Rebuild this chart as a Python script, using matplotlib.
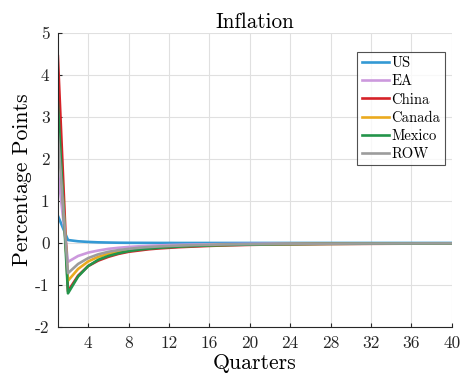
import matplotlib
matplotlib.use("Agg")
import matplotlib.pyplot as plt
import numpy as np

plt.rcParams['font.family'] = 'cmr10'
plt.rcParams['mathtext.fontset'] = 'cm'
plt.rcParams['axes.unicode_minus'] = False

quarters = np.arange(1, 41)

# impulse responses of inflation, percentage points
us = [0.65, 0.07, 0.04, 0.025, 0.015, 0.01, 0.006, 0.004, 0.003, 0.002,
      0.001, 0.001, 0.0, 0.0, 0.0, 0.0, 0.0, 0.0, 0.0, 0.0,
      0.0, 0.0, 0.0, 0.0, 0.0, 0.0, 0.0, 0.0, 0.0, 0.0,
      0.0, 0.0, 0.0, 0.0, 0.0, 0.0, 0.0, 0.0, 0.0, 0.0]
ea = [1.7, -0.45, -0.31, -0.23, -0.18, -0.14, -0.115, -0.095, -0.08, -0.068,
      -0.058, -0.05, -0.044, -0.039, -0.035, -0.031, -0.028, -0.025, -0.023, -0.021,
      -0.019, -0.018, -0.017, -0.016, -0.015, -0.014, -0.013, -0.012, -0.012, -0.011,
      -0.011, -0.010, -0.010, -0.009, -0.009, -0.009, -0.008, -0.008, -0.008, -0.008]
china = [4.45, -1.15, -0.78, -0.55, -0.42, -0.33, -0.26, -0.21, -0.18, -0.15,
         -0.13, -0.115, -0.10, -0.09, -0.08, -0.07, -0.062, -0.055, -0.05, -0.045,
         -0.041, -0.038, -0.035, -0.032, -0.03, -0.028, -0.026, -0.024, -0.023, -0.022,
         -0.021, -0.02, -0.019, -0.018, -0.017, -0.017, -0.016, -0.016, -0.015, -0.015]
canada = [3.0, -0.9, -0.62, -0.44, -0.33, -0.26, -0.21, -0.17, -0.14, -0.12,
          -0.10, -0.088, -0.077, -0.068, -0.06, -0.054, -0.048, -0.043, -0.039, -0.035,
          -0.032, -0.03, -0.028, -0.026, -0.024, -0.022, -0.021, -0.02, -0.019, -0.018,
          -0.017, -0.016, -0.015, -0.015, -0.014, -0.014, -0.013, -0.013, -0.012, -0.012]
mexico = [3.35, -1.2, -0.8, -0.55, -0.4, -0.31, -0.245, -0.195, -0.16, -0.135,
          -0.115, -0.1, -0.087, -0.076, -0.067, -0.06, -0.053, -0.048, -0.043, -0.039,
          -0.036, -0.033, -0.03, -0.028, -0.026, -0.024, -0.022, -0.021, -0.02, -0.019,
          -0.018, -0.017, -0.016, -0.015, -0.015, -0.014, -0.014, -0.013, -0.013, -0.012]
row = [2.6, -0.72, -0.5, -0.36, -0.27, -0.21, -0.17, -0.14, -0.115, -0.097,
       -0.083, -0.072, -0.063, -0.055, -0.049, -0.044, -0.039, -0.035, -0.032, -0.029,
       -0.027, -0.025, -0.023, -0.021, -0.02, -0.019, -0.018, -0.017, -0.016, -0.015,
       -0.014, -0.014, -0.013, -0.013, -0.012, -0.012, -0.011, -0.011, -0.011, -0.01]

series = [("US", us, "#3399d4"), ("EA", ea, "#cc99dd"), ("China", china, "#d62228"),
          ("Canada", canada, "#ebaa1e"), ("Mexico", mexico, "#23944a"), ("ROW", row, "#9c9c9c")]

xticks = [4, 8, 12, 16, 20, 24, 28, 32, 36, 40]
yticks = [-2, -1, 0, 1, 2, 3, 4, 5]

fig = plt.figure(figsize=(4.63, 3.81), dpi=100)
ax = fig.add_axes([0.125, 0.142, 0.851, 0.771])

for name, vals, col in series:
    ax.plot(quarters, vals, color=col, lw=1.9, label=name)

ax.set_xlim(1, 40)
ax.set_ylim(-2, 5)
ax.set_xticks(xticks)
ax.set_xticklabels([str(t) for t in xticks])
ax.set_yticks(yticks)
ax.set_yticklabels([str(t) for t in yticks])
ax.tick_params(direction='in', length=3, width=0.8, colors='#262626', labelsize=12.5, pad=6)
ax.grid(True, color='#e0e0e0', lw=0.8)
ax.set_axisbelow(True)
for s in ['top', 'right']:
    ax.spines[s].set_visible(False)
for s in ['left', 'bottom']:
    ax.spines[s].set_color('#262626')
    ax.spines[s].set_linewidth(0.8)

ax.set_title("Inflation", fontsize=15.3, pad=4)
ax.set_xlabel("Quarters", fontsize=15.7, labelpad=2)
ax.set_ylabel("Percentage Points", fontsize=15.7, labelpad=2)

leg = ax.legend(loc='upper right', bbox_to_anchor=(0.982, 0.935), fontsize=10.5, frameon=True,
                fancybox=False, edgecolor='#262626', handlelength=1.85, handletextpad=0.2,
                labelspacing=0.3, borderpad=0.3, borderaxespad=0.0)
leg.get_frame().set_linewidth(0.8)

fig.savefig("out.png", dpi=100)
